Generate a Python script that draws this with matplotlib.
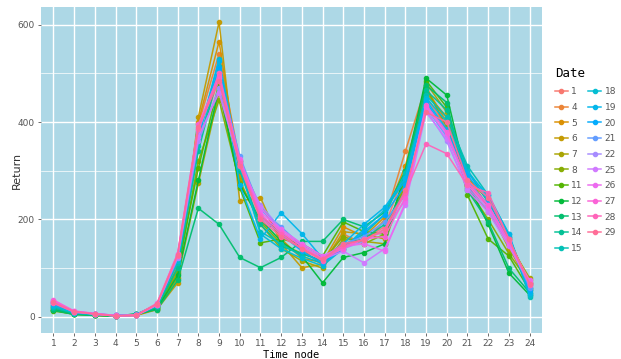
import numpy as np
import matplotlib
matplotlib.use("Agg")
import matplotlib.pyplot as plt

nodes = list(range(1, 25))
dates = [1, 4, 5, 6, 7, 8, 11, 12, 13, 14, 15, 18, 19, 20, 21, 22, 25, 26, 27, 28, 29]

d1 = [30, 10, 6, 3, 5, 22, 115, 360, 490, 300, 210, 170, 140, 118, 150, 160, 185, 300, 450, 390, 275, 225, 150, 65]
d4 = [25, 9, 5, 2, 4, 20, 105, 395, 540, 320, 225, 175, 140, 105, 170, 150, 200, 340, 475, 380, 280, 230, 145, 60]
d5 = [20, 8, 4, 2, 3, 18, 95, 400, 565, 290, 230, 160, 120, 112, 185, 165, 205, 310, 470, 400, 285, 240, 160, 70]
d6 = [18, 7, 4, 1, 3, 15, 70, 410, 605, 238, 245, 150, 101, 108, 175, 170, 160, 290, 460, 410, 290, 225, 140, 75]
d7 = [15, 6, 3, 1, 4, 16, 80, 274, 460, 280, 190, 140, 115, 100, 160, 155, 150, 280, 480, 420, 270, 215, 150, 80]
d8 = [14, 5, 3, 2, 5, 18, 90, 320, 445, 275, 195, 150, 130, 115, 165, 150, 170, 270, 470, 390, 265, 200, 130, 70]
d11 = [12, 6, 4, 2, 6, 20, 100, 305, 480, 265, 152, 160, 150, 125, 195, 175, 170, 285, 485, 430, 250, 160, 125, 55]
d12 = [15, 7, 4, 2, 5, 17, 85, 280, 470, 270, 200, 155, 125, 70, 122, 132, 150, 300, 490, 455, 275, 190, 90, 45]
d13 = [14, 5, 3, 2, 6, 15, 75, 223, 190, 122, 101, 122, 155, 155, 200, 185, 215, 300, 475, 440, 260, 195, 100, 50]
d14 = [18, 7, 4, 2, 4, 20, 100, 340, 505, 300, 190, 145, 130, 115, 150, 160, 190, 260, 465, 425, 300, 235, 165, 60]
d15 = [20, 8, 5, 2, 4, 22, 110, 350, 515, 305, 175, 150, 125, 110, 145, 170, 210, 295, 455, 410, 310, 250, 170, 40]
d18 = [22, 9, 5, 3, 5, 25, 115, 365, 530, 310, 170, 140, 120, 105, 140, 180, 220, 280, 450, 400, 300, 245, 165, 45]
d19 = [25, 9, 6, 2, 4, 24, 120, 370, 525, 270, 160, 214, 171, 120, 150, 190, 225, 285, 445, 385, 295, 250, 170, 50]
d20 = [28, 10, 6, 3, 5, 25, 120, 375, 510, 320, 205, 170, 135, 110, 140, 175, 210, 270, 440, 380, 290, 240, 160, 55]
d21 = [30, 11, 7, 3, 4, 26, 125, 380, 500, 330, 220, 185, 145, 120, 150, 165, 195, 250, 430, 370, 280, 230, 155, 60]
d22 = [32, 11, 6, 2, 3, 24, 120, 360, 470, 310, 230, 180, 150, 125, 140, 155, 180, 240, 425, 360, 265, 220, 150, 65]
d25 = [30, 10, 6, 2, 3, 25, 125, 370, 460, 315, 225, 175, 145, 118, 135, 111, 140, 230, 420, 365, 260, 215, 145, 70]
d26 = [33, 12, 7, 3, 4, 26, 130, 385, 490, 325, 215, 180, 150, 125, 145, 150, 135, 235, 430, 375, 270, 225, 150, 75]
d27 = [35, 12, 7, 3, 3, 28, 130, 395, 495, 320, 210, 175, 145, 120, 140, 160, 165, 245, 435, 380, 275, 230, 155, 70]
d28 = [28, 10, 6, 2, 3, 25, 125, 385, 500, 315, 205, 170, 140, 115, 145, 160, 175, 255, 355, 335, 270, 255, 160, 65]
d29 = [30, 11, 6, 2, 4, 27, 128, 390, 485, 310, 200, 165, 140, 118, 150, 158, 180, 260, 420, 400, 280, 245, 160, 68]

series = [d1, d4, d5, d6, d7, d8, d11, d12, d13, d14, d15,
          d18, d19, d20, d21, d22, d25, d26, d27, d28, d29]


def hcl_to_hex(h, c=100, l=65):
    # polar Luv -> sRGB, D65 white (same as R's hcl)
    xn, yn, zn = 95.047, 100.0, 108.883
    un = 4 * xn / (xn + 15 * yn + 3 * zn)
    vn = 9 * yn / (xn + 15 * yn + 3 * zn)
    u = c * np.cos(np.radians(h))
    v = c * np.sin(np.radians(h))
    y = yn * ((l + 16) / 116) ** 3
    up = u / (13 * l) + un
    vp = v / (13 * l) + vn
    x = y * 9 * up / (4 * vp)
    z = y * (12 - 3 * up - 20 * vp) / (4 * vp)
    xyz = np.array([x, y, z]) / 100
    m = np.array([[3.2404542, -1.5371385, -0.4985314],
                  [-0.9692660, 1.8760108, 0.0415560],
                  [0.0556434, -0.2040259, 1.0572252]])
    rgb = m @ xyz
    rgb = np.where(rgb <= 0.0031308, 12.92 * rgb, 1.055 * np.power(np.clip(rgb, 0, None), 1 / 2.4) - 0.055)
    rgb = np.clip(rgb, 0, 1)
    return matplotlib.colors.to_hex(rgb)


n = len(dates)
hues = np.linspace(15, 375, n + 1)[:-1]
colors = [hcl_to_hex(h) for h in hues]

fig = plt.figure(figsize=(6.21, 3.59), dpi=100)
ax = fig.add_axes([41 / 621, 26 / 359, 501 / 621, 326 / 359])
ax.set_facecolor("#ADD8E6")

for d, vals, col in zip(dates, series, colors):
    ax.plot(nodes, vals, color=col, lw=1.1, marker="o", ms=3, label=str(d), alpha=0.95)

ax.set_xlim(0.4, 24.6)
ax.set_ylim(-33, 636)
ax.set_xticks(nodes)
ax.set_yticks([0, 200, 400, 600])
ax.set_yticks([100, 300, 500], minor=True)
ax.grid(True, which="major", color="white", lw=1.0)
ax.grid(True, which="minor", axis="y", color="white", lw=0.5)
ax.set_axisbelow(True)
for s in ax.spines.values():
    s.set_visible(False)
ax.tick_params(axis="both", which="major", labelsize=6.5, labelcolor="#555555",
               color="#555555", length=2.5, width=0.6, pad=2)
ax.tick_params(axis="y", which="minor", length=0)

ax.set_xlabel("Time node", fontsize=7.5, family="DejaVu Sans Mono", labelpad=1)
ax.set_ylabel("Return", fontsize=8, color="#333333", labelpad=-3)

leg = ax.legend(ncol=2, loc="center left", bbox_to_anchor=(1.01, 0.53), frameon=False,
                title="Date", fontsize=6.5, title_fontsize=9, handlelength=1.4,
                columnspacing=0.6, handletextpad=0.4, labelspacing=0.74, markerscale=1)
leg._legend_box.align = "left"
leg.get_title().set_family("DejaVu Sans Mono")
for t in leg.get_texts():
    t.set_color("#555555")

fig.savefig("out.png", dpi=100)
